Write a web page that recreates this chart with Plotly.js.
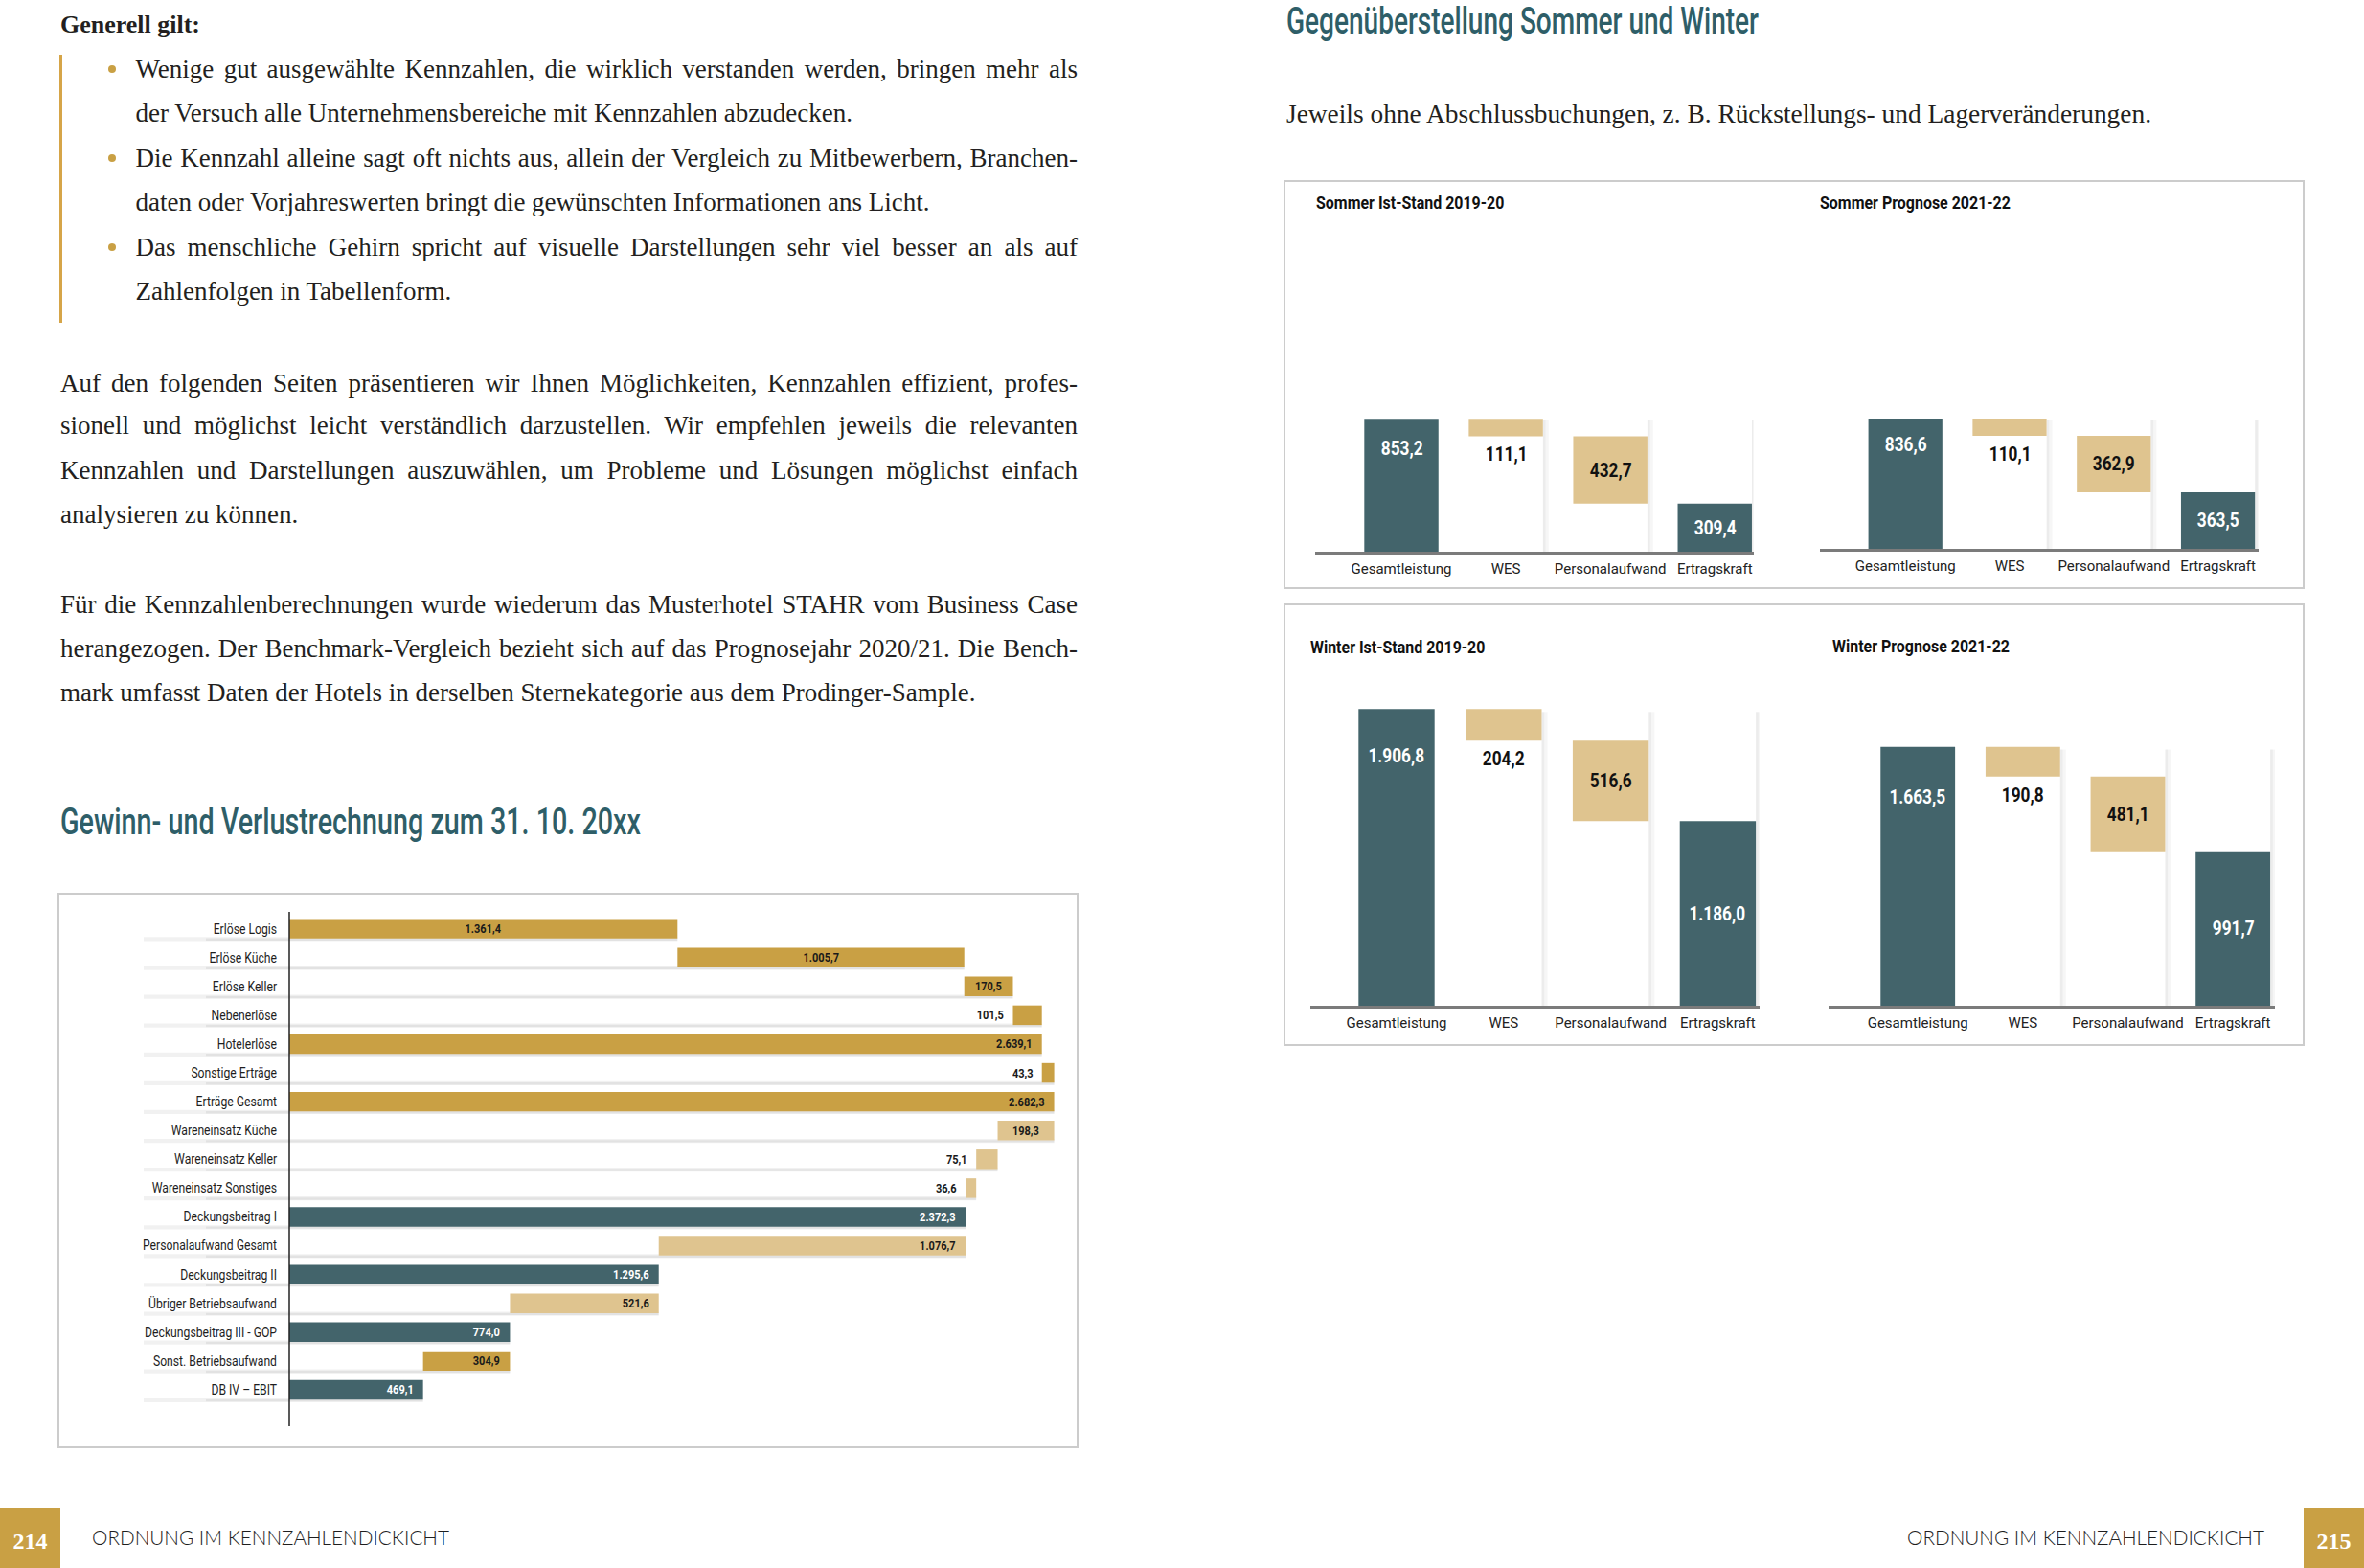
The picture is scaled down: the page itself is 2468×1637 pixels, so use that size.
<!DOCTYPE html>
<html>
<head>
<meta charset="utf-8">
<script src="https://cdn.plot.ly/plotly-3.0.1.min.js"></script>
<style>
html,body{margin:0;padding:0;background:#fff;}
#page{position:relative;width:2468px;height:1637px;overflow:hidden;background:#fff;}
#plot{position:absolute;left:0;top:0;width:2468px;height:1637px;}
#textlayer{position:absolute;left:0;top:0;width:2468px;height:1637px;pointer-events:none;}
</style>
</head>
<body>
<div id="page"><div id="plot"></div><div id="textlayer"></div></div>
<script>
// ------------------------------------------------------------------ DATA
const pnlCategories = ["Erlöse Logis", "Erlöse Küche", "Erlöse Keller", "Nebenerlöse", "Hotelerlöse",
  "Sonstige Erträge", "Erträge Gesamt", "Wareneinsatz Küche", "Wareneinsatz Keller", "Wareneinsatz Sonstiges",
  "Deckungsbeitrag I", "Personalaufwand Gesamt", "Deckungsbeitrag II", "Übriger Betriebsaufwand",
  "Deckungsbeitrag III - GOP", "Sonst. Betriebsaufwand", "DB IV – EBIT"];
const pnlValues = [1361.4, 1005.7, 170.5, 101.5, 2639.1, 43.3, 2682.3, 198.3, 75.1, 36.6,
  2372.3, 1076.7, 1295.6, 521.6, 774.0, 304.9, 469.1];
const pnlKind = ["plus", "plus", "plus", "plus", "total", "plus", "total", "minus", "minus", "minus",
  "total", "minus", "total", "minus", "total", "minus", "total"];
const pnlTone = ["gold", "gold", "gold", "gold", "gold", "gold", "gold", "tan", "tan", "tan",
  "teal", "tan", "teal", "tan", "teal", "gold", "teal"];

const seasonCategories = ["Gesamtleistung", "WES", "Personalaufwand", "Ertragskraft"];
const seasonKind = ["total", "minus", "minus", "total"];
const seasonTone = ["teal", "tan", "tan", "teal"];
const sommerIstValues = [853.2, 111.1, 432.7, 309.4];
const sommerPrognoseValues = [836.6, 110.1, 362.9, 363.5];
const winterIstValues = [1906.8, 204.2, 516.6, 1186.0];
const winterPrognoseValues = [1663.5, 190.8, 481.1, 991.7];
const seasonTitles = ["Sommer Ist-Stand 2019-20", "Sommer Prognose 2021-22", "Winter Ist-Stand 2019-20", "Winter Prognose 2021-22"];

const headingRight = "Gegenüberstellung Sommer und Winter";
const headingLeft = "Gewinn- und Verlustrechnung zum 31. 10. 20xx";
const subRight = "Jeweils ohne Abschlussbuchungen, z. B. Rückstellungs- und Lagerveränderungen.";
const introHeading = "Generell gilt:";
const bulletLines = [
  "Wenige gut ausgewählte Kennzahlen, die wirklich verstanden werden, bringen mehr als",
  "der Versuch alle Unternehmensbereiche mit Kennzahlen abzudecken.",
  "Die Kennzahl alleine sagt oft nichts aus, allein der Vergleich zu Mitbewerbern, Branchen-",
  "daten oder Vorjahreswerten bringt die gewünschten Informationen ans Licht.",
  "Das menschliche Gehirn spricht auf visuelle Darstellungen sehr viel besser an als auf",
  "Zahlenfolgen in Tabellenform."];
const para2Lines = [
  "Auf den folgenden Seiten präsentieren wir Ihnen Möglichkeiten, Kennzahlen effizient, profes-",
  "sionell und möglichst leicht verständlich darzustellen. Wir empfehlen jeweils die relevanten",
  "Kennzahlen und Darstellungen auszuwählen, um Probleme und Lösungen möglichst einfach",
  "analysieren zu können."];
const para3Lines = [
  "Für die Kennzahlenberechnungen wurde wiederum das Musterhotel STAHR vom Business Case",
  "herangezogen. Der Benchmark-Vergleich bezieht sich auf das Prognosejahr 2020/21. Die Bench-",
  "mark umfasst Daten der Hotels in derselben Sternekategorie aus dem Prodinger-Sample."];
const footerText = "ORDNUNG IM KENNZAHLENDICKICHT";
const pageNumbers = ["214", "215"];

// ------------------------------------------------------------------ STYLE
const COLORS = {gold: "#c9a044", tan: "#dfc48f", teal: "#43646b", heading: "#2e5e68", text: "#231f20", box: "#cccccc"};
const SANS = 'Roboto, "Liberation Sans", sans-serif';
const SERIF = '"Liberation Serif", "DejaVu Serif", serif';
const W = 2468, H = 1637;
const px = v => v / W;
const py = v => 1 - v / H;

function deNum(v) {
  const s = v.toFixed(1);
  let [i, d] = s.split(".");
  i = i.replace(/\B(?=(\d{3})+(?!\d))/g, ".");
  return i + "," + d;
}
function waterfallBases(values, kinds) {
  let run = 0;
  return values.map((v, i) => {
    const k = kinds[i];
    if (k === "plus") { const b = run; run += v; return b; }
    if (k === "minus") { run -= v; return run; }
    run = v; return 0;
  });
}

// ------------------------------------------------------------------ PLOT
const data = [];
const shapes = [];
const annotations = [];
const annStyle = [];
function addAnn(a, factor, anchor) { annotations.push(Object.assign({showarrow: false}, a)); annStyle.push({f: factor, a: anchor}); }

// P&L horizontal waterfall
const pnlX0 = 302, pnlX1 = 1110, pnlRangeMax = 2714;
const pnlScale = (pnlX1 - pnlX0) / pnlRangeMax;
const pnlBases = waterfallBases(pnlValues, pnlKind);
data.push({
  type: "bar", orientation: "h", y: pnlCategories, x: pnlValues, base: pnlBases, width: 0.68,
  marker: {color: pnlTone.map(t => COLORS[t]), line: {width: 0}}, hoverinfo: "skip", xaxis: "x", yaxis: "y"
});
const pnlLabelPlacement = ["middle", "middle", "middle", "left", "end", "left", "end", "middle", "left", "left",
  "end", "end", "end", "end", "end", "end", "end"];
pnlValues.forEach((v, i) => {
  const b = pnlBases[i], pl = pnlLabelPlacement[i];
  let x, xanchor, xshift;
  if (pl === "middle") { x = b + v / 2; xanchor = "center"; xshift = 0; }
  else if (pl === "end") { x = b + v; xanchor = "right"; xshift = -8; }
  else { x = b; xanchor = "right"; xshift = -7; }
  addAnn({xref: "x", yref: "y", x: x, y: pnlCategories[i], xanchor: xanchor, xshift: xshift, yanchor: "middle",
    text: deNum(v), font: {family: SANS, size: 12.5, weight: 700, color: pnlTone[i] === "teal" ? "#ffffff" : "#1a1a1a"}},
    0.88, xanchor === "center" ? "center" : "right");
  // row shadow
  const endPx = pnlX0 + (b + v) * pnlScale;
  shapes.push({type: "rect", layer: "below", xref: "paper", yref: "y", x0: px(150), x1: px(Math.max(endPx, 420)),
    y0: i + 0.29, y1: i + 0.43, fillcolor: "rgba(0,0,0,0.055)", line: {width: 0}});
  shapes.push({type: "rect", layer: "below", xref: "paper", yref: "y", x0: px(215), x1: px(Math.max(endPx, 420)),
    y0: i + 0.33, y1: i + 0.41, fillcolor: "rgba(0,0,0,0.06)", line: {width: 0}});
});
shapes.push({type: "line", xref: "paper", yref: "paper", x0: px(pnlX0), x1: px(pnlX0), y0: py(952), y1: py(1489),
  line: {color: "#222", width: 1.5}});

// season waterfalls
const panels = [
  {vals: sommerIstValues, xd: [1372.5, 1830.6], xr: [-0.83, 3.37], base: 576, title: [1372, 211], gShift: -31},
  {vals: sommerPrognoseValues, xd: [1900, 2358], xr: [-0.82, 3.39], base: 573, title: [1898, 211], gShift: -27},
  {vals: winterIstValues, xd: [1368, 1837], xr: [-0.805, 3.39], base: 1050, title: [1366, 675], gShift: -49},
  {vals: winterPrognoseValues, xd: [1909, 2375], xr: [-0.85, 3.4], base: 1050, title: [1911, 674], gShift: -52}
];
const layoutAxes = {};
panels.forEach((p, k) => {
  const n = k + 2;
  const bases = waterfallBases(p.vals, seasonKind);
  data.push({
    type: "bar", x: seasonCategories, y: p.vals, base: bases, width: 0.71,
    marker: {color: seasonTone.map(t => COLORS[t]), line: {width: 0}}, hoverinfo: "skip",
    xaxis: "x" + n, yaxis: "y" + n
  });
  layoutAxes["xaxis" + n] = {domain: [px(p.xd[0]), px(p.xd[1])], range: p.xr, type: "category", anchor: "y" + n,
    showline: true, linecolor: "#7b7b7b", linewidth: 2.5, ticks: "", showgrid: false, zeroline: false,
    tickfont: {family: SANS, size: 15, color: "#222"}, ticklabelstandoff: 2, fixedrange: true};
  layoutAxes["yaxis" + n] = {domain: [py(p.base), py(p.base - 325)], range: [0, 2000], anchor: "x" + n,
    visible: false, fixedrange: true};
  // column shadows
  for (let i = 1; i < 4; i++) {
    shapes.push({type: "rect", layer: "below", xref: "x" + n, yref: "y" + n, x0: i + 0.355, x1: i + 0.41,
      y0: 0, y1: p.vals[0] * 0.99, fillcolor: "rgba(0,0,0,0.035)", line: {width: 0}});
    shapes.push({type: "rect", layer: "below", xref: "x" + n, yref: "y" + n, x0: i + 0.355, x1: i + 0.38,
      y0: 0, y1: p.vals[0] * 0.99, fillcolor: "rgba(0,0,0,0.04)", line: {width: 0}});
  }
  // value labels
  const lab = (i, y, yanchor, yshift, color) => addAnn({xref: "x" + n, yref: "y" + n, x: seasonCategories[i], y: y,
    xanchor: "center", yanchor: yanchor, yshift: yshift, text: deNum(p.vals[i]),
    font: {family: SANS, size: 21, weight: 700, color: color}}, 0.82, "center");
  lab(0, p.vals[0], "middle", p.gShift, "#ffffff");
  lab(1, bases[1], "top", -5, "#111111");
  lab(2, bases[2] + p.vals[2] / 2, "middle", 0, "#111111");
  lab(3, p.vals[3] / 2, "middle", 0, "#ffffff");
  // title
  addAnn({xref: "paper", yref: "paper", x: px(p.title[0]), y: py(p.title[1]), xanchor: "left", yanchor: "middle",
    text: seasonTitles[k], font: {family: SANS, size: 19, weight: 700, color: "#111"}}, 0.84, "left");
});

// boxes and page elements
[[61, 933, 1125, 1511], [1341, 189, 2405, 614], [1341, 631, 2405, 1091]].forEach(b => {
  shapes.push({type: "rect", xref: "paper", yref: "paper", x0: px(b[0]), x1: px(b[2]), y0: py(b[3]), y1: py(b[1]),
    line: {color: COLORS.box, width: 2}, fillcolor: "rgba(0,0,0,0)"});
});
shapes.push({type: "rect", xref: "paper", yref: "paper", x0: px(0), x1: px(63), y0: py(1637), y1: py(1574),
  fillcolor: COLORS.gold, line: {width: 0}});
shapes.push({type: "rect", xref: "paper", yref: "paper", x0: px(2405), x1: px(2468), y0: py(1637), y1: py(1574),
  fillcolor: COLORS.gold, line: {width: 0}});

const layout = Object.assign({
  width: W, height: H, margin: {l: 0, r: 0, t: 0, b: 0},
  paper_bgcolor: "rgba(0,0,0,0)", plot_bgcolor: "rgba(0,0,0,0)",
  showlegend: false, hovermode: false, font: {family: SANS, color: "#222"},
  xaxis: {domain: [px(pnlX0), px(pnlX1)], range: [0, pnlRangeMax], anchor: "y", visible: false, fixedrange: true},
  yaxis: {domain: [py(1466), py(954.6)], type: "category", range: [16.5, -0.5], anchor: "x", showline: false,
    ticks: "", showgrid: false, zeroline: false, ticklabelstandoff: 12,
    tickfont: {family: SANS, size: 14, color: "#1e1e1e"}, fixedrange: true},
  shapes: shapes, annotations: annotations
}, layoutAxes);

function condense(el, factor, anchor) {
  if (!el || factor === 1) return;
  const len = el.getComputedTextLength();
  if (!len) return;
  const b = el.getBBox();
  el.setAttribute("textLength", (len * factor).toFixed(2));
  el.setAttribute("lengthAdjust", "spacingAndGlyphs");
  const a = el.getBBox();
  const ref = bb => anchor === "left" ? bb.x : anchor === "right" ? bb.x + bb.width : bb.x + bb.width / 2;
  const dx = ref(b) - ref(a);
  if (Math.abs(dx) > 0.01) {
    [el, ...el.querySelectorAll("tspan[x]")].forEach(t => {
      const x = parseFloat(t.getAttribute("x") || "0");
      t.setAttribute("x", x + dx);
    });
  }
}

const gd = document.getElementById("plot");
Plotly.newPlot(gd, data, layout, {staticPlot: true, displayModeBar: false}).then(() => {
  gd.querySelectorAll(".ytick text").forEach(t => condense(t, 0.87, "right"));
  gd.querySelectorAll(".annotation").forEach(g => {
    const idx = +g.getAttribute("data-index");
    const st = annStyle[idx];
    if (st) condense(g.querySelector("text.annotation-text"), st.f, st.a);
  });
});

// ------------------------------------------------------------------ HTML TEXT
const layer = document.getElementById("textlayer");
const ctx = document.createElement("canvas").getContext("2d");
function placeText(cfg) {
  const el = document.createElement("div");
  el.textContent = cfg.text;
  const s = el.style;
  const weight = cfg.weight || 400;
  s.position = "absolute"; s.whiteSpace = "nowrap";
  s.fontFamily = cfg.family; s.fontSize = cfg.size + "px"; s.fontWeight = weight;
  s.color = cfg.color || COLORS.text; s.lineHeight = cfg.size + "px";
  layer.appendChild(el);
  const natural = el.getBoundingClientRect().width;
  ctx.font = weight + " " + cfg.size + "px " + cfg.family;
  const m = ctx.measureText("H");
  const capH = m.actualBoundingBoxAscent;
  const asc = m.fontBoundingBoxAscent, desc = m.fontBoundingBoxDescent;
  const baseOff = (cfg.size - (asc + desc)) / 2 + asc;
  s.top = (cfg.cc + capH / 2 - baseOff) + "px";
  let left = cfg.left;
  if (cfg.center !== undefined) left = cfg.center - natural / 2;
  s.left = left + "px";
  if (cfg.width) {
    if (cfg.mode === "justify" && natural < cfg.width - 2) {
      s.whiteSpace = "normal"; s.width = cfg.width + "px";
      s.textAlign = "justify"; s.textAlignLast = "justify";
    } else if (cfg.mode === "justify" || cfg.mode === "fit") {
      s.transformOrigin = "0 0"; s.transform = "scaleX(" + (cfg.width / natural) + ")";
    }
  }
  return el;
}
const BODY = {family: SERIF, size: 27};
placeText(Object.assign({}, BODY, {text: introHeading, left: 63, cc: 25.5, weight: 700, size: 26, width: 146, mode: "fit"}));
const bulletCC = [72, 118, 165, 211, 258, 304.5];
const bulletJust = [true, false, true, false, true, false];
bulletLines.forEach((t, i) => placeText(Object.assign({}, BODY, {text: t, left: 141.5, cc: bulletCC[i],
  width: bulletJust[i] ? 1125 - 141.5 : null, mode: "justify"})));
[0, 2, 4].forEach(i => {
  const d = document.createElement("div");
  Object.assign(d.style, {position: "absolute", left: "113px", top: (bulletCC[i] - 4) + "px", width: "8px", height: "8px",
    borderRadius: "50%", background: COLORS.gold});
  layer.appendChild(d);
});
const bar = document.createElement("div");
Object.assign(bar.style, {position: "absolute", left: "61.5px", top: "57px", width: "3px", height: "280px", background: "#d6a548"});
layer.appendChild(bar);
const p2CC = [400, 444, 491, 537];
para2Lines.forEach((t, i) => placeText(Object.assign({}, BODY, {text: t, left: 63, cc: p2CC[i],
  width: i < 3 ? 1125 - 63 : null, mode: "justify"})));
const p3CC = [631, 677, 723];
para3Lines.forEach((t, i) => placeText(Object.assign({}, BODY, {text: t, left: 63, cc: p3CC[i],
  width: i < 2 ? 1125 - 63 : null, mode: "justify"})));
placeText(Object.assign({}, BODY, {text: subRight, left: 1343, cc: 119, width: 903, mode: "fit"}));
placeText({text: headingRight, family: SANS, size: 39, weight: 500, color: COLORS.heading, left: 1343, cc: 21.5, width: 493, mode: "fit"});
placeText({text: headingLeft, family: SANS, size: 39, weight: 500, color: COLORS.heading, left: 63, cc: 857, width: 606, mode: "fit"});
const FOOT = {family: 'Lato, "Open Sans", sans-serif', size: 21, weight: 300, color: "#1e1e1e"};
placeText(Object.assign({}, FOOT, {text: footerText, left: 96, cc: 1605.7, width: 373, mode: "fit"}));
placeText(Object.assign({}, FOOT, {text: footerText, left: 2364 - 373, cc: 1605.7, width: 373, mode: "fit"}));
placeText({text: pageNumbers[0], family: SERIF, size: 24, weight: 700, color: "#ffffff", center: 31.5, cc: 1609});
placeText({text: pageNumbers[1], family: SERIF, size: 24, weight: 700, color: "#ffffff", center: 2436.5, cc: 1609});
</script>
</body>
</html>
